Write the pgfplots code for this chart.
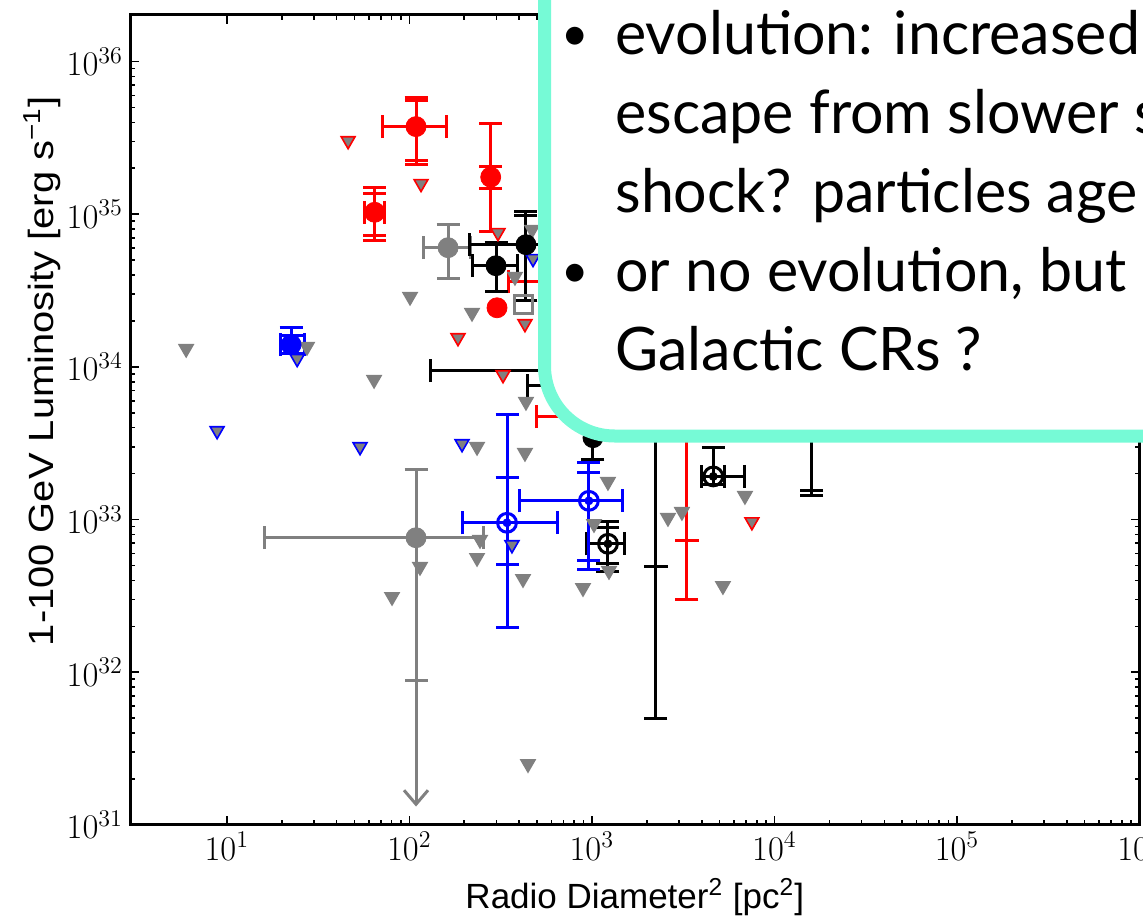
\documentclass[border=0pt]{standalone}
\usepackage{pgfplots}
\pgfplotsset{compat=1.18}
\usetikzlibrary{arrows.meta}
\usepackage{fontspec}
\setmainfont{Liberation Sans}
\newfontfamily\labelfont{Liberation Sans}
\newfontfamily\ylabelfont[FakeStretch=1.14]{Liberation Sans}
\newfontfamily\notefont[FakeStretch=0.985]{Lato}
\definecolor{boxedge}{RGB}{118,250,214}

\pgfplotsset{
  ebxy/.style={only marks,
    error bars/.cd, x dir=both, x explicit, y dir=both, y explicit,
    error bar style={line width=1.5pt},
    error mark options={rotate=90, line width=1.5pt, mark size=5.75pt}},
  eby/.style={only marks,
    error bars/.cd, y dir=both, y explicit,
    error bar style={line width=1.5pt},
    error mark options={rotate=90, line width=1.5pt, mark size=5.75pt}},
  ebx/.style={only marks,
    error bars/.cd, x dir=both, x explicit,
    error bar style={line width=1.5pt},
    error mark options={rotate=90, line width=1.5pt, mark size=5.75pt}},
  ulim/.style={only marks, mark=triangle*, mark size=4pt,
    mark options={rotate=180, fill=gray, draw=#1, line width=0.8pt}},
}

\begin{document}
\begin{tikzpicture}
\begin{axis}[
  name=ax, at={(0,0)}, anchor=south west,
  scale only axis, width=504.75pt, height=405pt,
  xmode=log, ymode=log,
  xmin=2.95, xmax=1e6, ymin=1e31, ymax=2.02e36,
  xtick={1e1,1e2,1e3,1e4,1e5,1e6},
  ytick={1e31,1e32,1e33,1e34,1e35,1e36},
  axis line style={line width=1.5pt},
  every tick/.style={black, line width=0.8pt},
  major tick length=4.5pt, minor tick length=2.5pt,
  tick align=inside,
  tick label style={font=\fontsize{17}{17}\selectfont},
  xlabel={Radio Diameter\textsuperscript{2} [pc\textsuperscript{2}]},
  ylabel={1-100 GeV Luminosity [erg s\textsuperscript{−1}]},
  xlabel style={font=\labelfont\fontsize{17.5}{18}\selectfont,
    at={(axis description cs:0.5,-0.089)}, anchor=center},
  ylabel style={font=\ylabelfont\fontsize{17.5}{18}\selectfont,
    at={(axis description cs:-0.0872,0.56)}, anchor=center},
]

% upper limits
\addplot[ulim=gray] coordinates {
  (100.9,2.884e34) (470,7.93e34) (379,3.90e34) (220.5,2.265e34)
  (435.5,5.92e33) (234.9,3.00e33) (430,2.74e33) (5.99,1.315e34)
  (27.5,1.355e34) (64.1,8.24e33) (243.9,7.38e32) (234.9,5.62e32)
  (114.4,4.91e32) (419.5,4.09e32) (80.4,3.12e32) (446.7,2.51e31)
  (1225,1.77e33) (1027,9.38e32) (1241,4.62e32) (894,3.57e32)
  (2611,1.028e33) (3114,1.125e33) (6895,1.432e33) (5223,3.68e32)};
\addplot[ulim=red] coordinates {
  (46.2,3.03e35) (115.9,1.587e35) (306,7.57e34) (430,1.919e34)
  (184.8,1.553e34) (326,8.89e33) (7530,9.67e32)};
\addplot[ulim=blue] coordinates {
  (476,5.12e34) (194.4,3.14e33) (24.3,1.133e34) (8.85,3.82e33)
  (53.7,3.00e33) (365,6.84e32)};

% gray detections
\addplot[gray, mark=*, mark size=5pt, ebxy] coordinates {
  (163,6.04e34) += (52,2.51e34) -= (44.1,2.26e34)
  (108.8,7.61e32) += (145,1.369e33) -= (92.7,6.72e32)};
\addplot[gray, line width=1.5pt, -{Straight Barb[length=7pt,width=12pt,line width=1.5pt]}]
  coordinates {(108.8,7.61e32) (108.8,1.32e31)};
\addplot[gray, only marks, mark=square, mark size=4.5pt, mark options={line width=1.5pt}]
  coordinates {(419.5,2.556e34)};

% red detections
\addplot[red, mark=none, eby] coordinates {
  (108.8,3.75e35) += (0,1.81e35) -= (0,1.50e35)
  (64.6,1.03e35) += (0,3.3e34) -= (0,3.0e34)
  (279.1,1.75e35) += (0,2.9e34) -= (0,2.7e34)};
\addplot[red, mark=*, mark size=5pt, ebxy] coordinates {
  (108.8,3.75e35) += (50.1,2.08e35) -= (37.9,1.62e35)
  (64.6,1.03e35) += (8.1,4.7e34) -= (7.9,3.56e34)
  (861,3.60e34) += (600,1.0e34) -= (513,1.0e34)
  (1109,4.72e33) += (700,1.0e33) -= (609,1.0e33)};
\addplot[red, mark=*, mark size=5pt, eby] coordinates {
  (279.1,1.75e35) += (0,2.18e35) -= (0,9.84e34)};
\addplot[red, only marks, mark=*, mark size=5pt] coordinates {(302.2,2.44e34)};
\addplot[red, mark=-, mark size=6pt, mark options={line width=1.5pt}, eby] coordinates {
  (3318,7.26e32) += (0,3.77e33) -= (0,4.28e32)};

% black detections
\addplot[black, mark=none, eby] coordinates {
  (435.5,6.32e34) += (0,3.56e34) -= (0,3.61e34)
  (15985,8.25e33) += (0,2e33) -= (0,6.82e33)
  (1225,6.94e32) += (0,1.9e32) -= (0,1.81e32)};
\addplot[black, mark=none, ebx] coordinates {
  (4624,1.917e33) += (731,0) -= (0,0)};
\addplot[black, mark=*, mark size=5pt, ebxy] coordinates {
  (298.4,4.60e34) += (90.6,1.89e34) -= (77.9,1.5e34)
  (435.5,6.32e34) += (300,4.08e34) -= (220.7,3.61e34)
  (3918,9.44e33) += (2000,1e33) -= (3788,1e33)
  (1097,7.54e33) += (500,1e33) -= (650.5,1e33)};
\addplot[black, mark=*, mark size=5pt, eby] coordinates {
  (1014,3.44e33) += (0,1e33) -= (0,0.97e33)
  (15985,8.25e33) += (0,2e33) -= (0,6.7e33)};
\addplot[black, mark=-, mark size=6pt, mark options={line width=1.5pt}, eby] coordinates {
  (2244,4.91e32) += (0,5.6e33) -= (0,4.41e32)};
\addplot[black, mark=o, mark size=4.7pt, mark options={line width=1.5pt}, ebxy] coordinates {
  (4624,1.917e33) += (2271,1.038e33) -= (619,0.227e33)
  (1225,6.94e32) += (292,2.73e32) -= (286,2.39e32)};

% blue detections
\addplot[blue, mark=none, eby] coordinates {
  (342.8,9.53e32) += (0,9.27e32) -= (0,4.47e32)
  (963,1.327e33) += (0,7.03e32) -= (0,7.9e32)
  (22.5,1.398e34) += (0,2.2e33) -= (0,1.78e33)};
\addplot[blue, mark=o, mark size=4.7pt, mark options={line width=1.5pt}, ebxy] coordinates {
  (342.8,9.53e32) += (309.2,3.907e33) -= (148.4,7.575e32)
  (963,1.327e33) += (516,1.033e33) -= (564,8.58e32)};
\addplot[blue, mark=*, mark size=5pt, ebxy] coordinates {
  (22.5,1.398e34) += (4.0,4.09e33) -= (2.9,1.78e33)};
\end{axis}

% callout box laid over the upper right of the plot
\begin{scope}[shift={(ax.south west)}]
  \clip (-65pt,-45.5pt) rectangle (506.5pt,412.5pt);
  \draw[boxedge, line width=6.5pt, fill=white, rounded corners=35pt]
    (207.25pt,194.5pt) rectangle (640pt,490pt);
  \begin{scope}[every node/.style={inner sep=0pt, font=\notefont\fontsize{30}{30}\selectfont}]
    \node[anchor=base, font=\notefont\fontsize{24}{24}\selectfont] at (222.5pt,387pt) {•};
    \node[anchor=base west] at (242.5pt,385pt) {evolution: increased};
    \node[anchor=base west] at (242.5pt,345.5pt) {escape from slower s};
    \node[anchor=base west] at (242.5pt,306pt) {shock? particles age};
    \node[anchor=base, font=\notefont\fontsize{24}{24}\selectfont] at (222.5pt,268.5pt) {•};
    \node[anchor=base west] at (242.5pt,266.5pt) {or no evolution, but};
    \node[anchor=base west] at (242.5pt,227pt) {Galactic CRs ?};
  \end{scope}
\end{scope}
\pgfresetboundingbox
\path[use as bounding box] (ax.south west) ++(-65pt,-45.5pt) rectangle ++(571.5pt,458pt);
\end{tikzpicture}
\end{document}
